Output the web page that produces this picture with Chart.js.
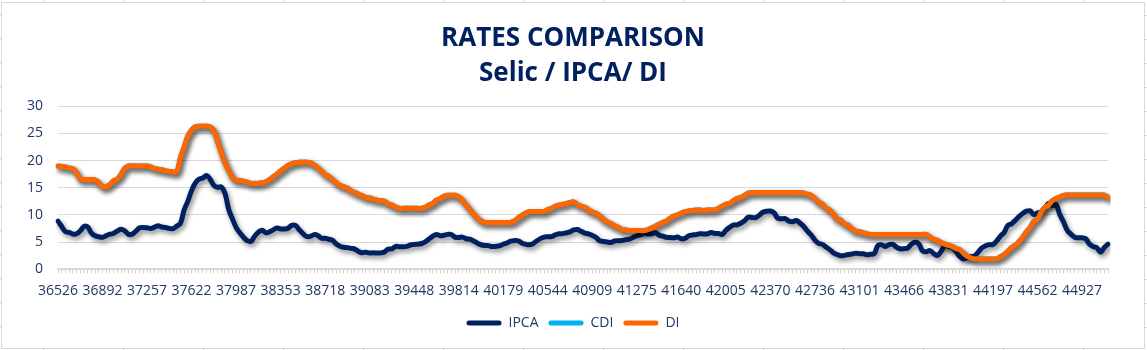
<!DOCTYPE html>
<html><head><meta charset="utf-8">
<script src="https://cdn.jsdelivr.net/npm/chart.js@4/dist/chart.umd.min.js"></script>
<style>
html,body{margin:0;padding:0;}
body{width:1147px;height:350px;overflow:hidden;position:relative;background-color:#fff;
background-image:linear-gradient(to right,#d6d6d6 1px,transparent 1px),linear-gradient(to bottom,#d6d6d6 1px,transparent 1px);
background-size:80px 100%,100% 24px;background-position:43px 0,0 15px;}
#box{position:absolute;left:1px;top:2px;width:1144px;height:347px;box-sizing:border-box;border:1px solid #d9d9d9;background:#fff;}
#box canvas{display:block;}
</style></head><body><div id="box"><canvas id="c" width="1142" height="345"></canvas></div>
<script>
// Monthly categories (Excel date serials, first day of each month, Jan 2000 .. Aug 2023)
const startYear = 2000, monthCount = 284;
const categories = [];
for (let i = 0; i < monthCount; i++) {
  const y = startYear + Math.floor(i / 12), m = i % 12;
  categories.push(String((Date.UTC(y, m, 1) - Date.UTC(1899, 11, 30)) / 86400000));
}
const tickLabels = ['36526','36892','37257','37622','37987','38353','38718','39083','39448','39814','40179','40544','40909','41275','41640','42005','42370','42736','43101','43466','43831','44197','44562','44927'];
const yTicks = [0, 5, 10, 15, 20, 25, 30];

const ipca = [
 8.85,7.86,6.92,6.77,6.47,6.51,7.06,7.86,7.77,6.66,6.16,5.97,
 5.89,6.18,6.44,6.61,7.04,7.35,7.06,6.41,6.46,7.00,7.61,7.67,
 7.62,7.51,7.75,7.98,7.77,7.66,7.51,7.46,7.93,8.45,10.93,12.53,
 14.47,15.85,16.57,16.77,17.24,16.57,15.43,15.07,15.14,13.98,11.02,9.30,
 7.71,6.69,5.89,5.26,5.15,6.06,6.81,7.18,6.71,6.86,7.24,7.60,
 7.41,7.39,7.54,8.07,8.05,7.27,6.57,6.02,6.04,6.36,6.22,5.69,
 5.70,5.51,5.32,4.63,4.23,4.03,3.97,3.84,3.70,3.26,3.02,3.14,
 2.99,3.02,2.96,3.00,3.18,3.69,3.74,4.18,4.15,4.12,4.19,4.46,
 4.56,4.61,4.73,5.04,5.58,6.06,6.37,6.17,6.25,6.41,6.39,5.90,
 5.84,5.90,5.61,5.53,5.20,4.80,4.50,4.36,4.34,4.17,4.22,4.31,
 4.59,4.83,5.17,5.26,5.22,4.84,4.60,4.49,4.70,5.20,5.63,5.91,
 5.99,6.01,6.30,6.51,6.55,6.71,6.87,7.23,7.31,6.97,6.64,6.50,
 6.22,5.85,5.24,5.10,4.99,4.92,5.20,5.24,5.28,5.45,5.53,5.84,
 6.15,6.31,6.59,6.49,6.50,6.70,6.27,6.09,5.86,5.84,5.77,5.91,
 5.59,5.68,6.15,6.28,6.37,6.52,6.50,6.51,6.75,6.59,6.56,6.41,
 7.14,7.70,8.13,8.17,8.47,8.89,9.56,9.53,9.49,9.93,10.48,10.67,
 10.71,10.36,9.39,9.28,9.32,8.84,8.74,8.97,8.48,7.87,6.99,6.29,
 5.35,4.76,4.57,4.08,3.60,3.00,2.71,2.46,2.54,2.70,2.80,2.95,
 2.86,2.84,2.68,2.76,2.86,4.39,4.48,4.19,4.53,4.56,4.05,3.75,
 3.78,3.89,4.58,4.94,4.66,3.37,3.22,3.43,2.89,2.54,3.27,4.31,
 4.19,4.01,3.30,2.40,1.88,2.13,2.31,2.44,3.14,3.92,4.31,4.52,
 4.56,5.20,6.10,6.76,8.06,8.35,8.99,9.68,10.25,10.67,10.74,10.06,
 10.38,10.54,11.30,12.13,11.73,11.89,10.07,8.73,7.17,6.47,5.90,5.79,
 5.77,5.60,4.65,4.18,3.94,3.16,3.99,4.61
];

const di = [
 19.0,18.9,18.8,18.6,18.5,17.8,16.6,16.5,16.5,16.5,16.4,15.9,
 15.2,15.2,15.6,16.3,16.6,17.5,18.6,19.0,19.0,19.0,19.0,19.0,
 19.0,18.8,18.5,18.4,18.3,18.1,18.0,17.9,17.9,20.5,22.5,24.5,
 25.6,26.2,26.3,26.3,26.3,26.2,25.5,23.5,21.5,19.6,18.2,16.9,
 16.4,16.3,16.2,16.0,15.8,15.8,15.8,15.9,16.1,16.5,17.0,17.5,
 18.1,18.6,19.1,19.4,19.6,19.7,19.7,19.7,19.6,19.2,18.7,18.1,
 17.4,17.1,16.5,15.9,15.4,15.2,14.9,14.4,14.1,13.8,13.5,13.2,
 13.1,12.9,12.7,12.6,12.5,12.0,11.8,11.4,11.2,11.2,11.2,11.2,
 11.2,11.2,11.2,11.4,11.8,12.1,12.7,13.0,13.4,13.6,13.6,13.6,
 13.3,12.7,11.8,11.0,10.2,9.4,8.9,8.6,8.6,8.6,8.6,8.6,
 8.6,8.6,8.6,8.9,9.4,9.9,10.3,10.6,10.6,10.6,10.6,10.6,
 11.0,11.2,11.6,11.8,11.9,12.1,12.3,12.4,11.9,11.6,11.4,10.9,
 10.5,10.3,9.8,9.2,8.7,8.4,8.0,7.7,7.3,7.2,7.1,7.1,
 7.1,7.1,7.1,7.3,7.6,7.9,8.3,8.6,8.9,9.4,9.8,10.0,
 10.3,10.6,10.7,10.8,10.9,10.9,10.8,10.9,10.9,10.9,11.2,11.6,
 12.0,12.1,12.6,13.0,13.2,13.6,14.0,14.1,14.1,14.1,14.1,14.1,
 14.1,14.1,14.1,14.1,14.1,14.1,14.1,14.1,14.1,14.0,13.8,13.6,
 13.0,12.3,12.0,11.2,10.9,10.1,9.2,9.0,8.3,8.1,7.4,7.0,
 6.9,6.7,6.5,6.4,6.4,6.4,6.4,6.4,6.4,6.4,6.4,6.4,
 6.4,6.4,6.4,6.4,6.4,6.4,6.4,5.9,5.5,5.3,4.9,4.6,
 4.4,4.2,3.8,3.6,3.0,2.4,2.1,1.9,1.9,1.9,1.9,1.9,
 1.9,1.9,2.3,2.7,3.3,4.0,4.4,5.1,5.9,6.9,7.7,8.8,
 9.2,10.5,11.4,11.8,12.6,13.0,13.3,13.6,13.65,13.65,13.65,13.65,
 13.65,13.65,13.65,13.65,13.65,13.65,13.65,13.2
];

// CDI is drawn underneath DI (same values, hidden in the reference)
const cdi = [
 19.0,18.9,18.8,18.6,18.5,17.8,16.6,16.5,16.5,16.5,16.4,15.9,
 15.2,15.2,15.6,16.3,16.6,17.5,18.6,19.0,19.0,19.0,19.0,19.0,
 19.0,18.8,18.5,18.4,18.3,18.1,18.0,17.9,17.9,20.5,22.5,24.5,
 25.6,26.2,26.3,26.3,26.3,26.2,25.5,23.5,21.5,19.6,18.2,16.9,
 16.4,16.3,16.2,16.0,15.8,15.8,15.8,15.9,16.1,16.5,17.0,17.5,
 18.1,18.6,19.1,19.4,19.6,19.7,19.7,19.7,19.6,19.2,18.7,18.1,
 17.4,17.1,16.5,15.9,15.4,15.2,14.9,14.4,14.1,13.8,13.5,13.2,
 13.1,12.9,12.7,12.6,12.5,12.0,11.8,11.4,11.2,11.2,11.2,11.2,
 11.2,11.2,11.2,11.4,11.8,12.1,12.7,13.0,13.4,13.6,13.6,13.6,
 13.3,12.7,11.8,11.0,10.2,9.4,8.9,8.6,8.6,8.6,8.6,8.6,
 8.6,8.6,8.6,8.9,9.4,9.9,10.3,10.6,10.6,10.6,10.6,10.6,
 11.0,11.2,11.6,11.8,11.9,12.1,12.3,12.4,11.9,11.6,11.4,10.9,
 10.5,10.3,9.8,9.2,8.7,8.4,8.0,7.7,7.3,7.2,7.1,7.1,
 7.1,7.1,7.1,7.3,7.6,7.9,8.3,8.6,8.9,9.4,9.8,10.0,
 10.3,10.6,10.7,10.8,10.9,10.9,10.8,10.9,10.9,10.9,11.2,11.6,
 12.0,12.1,12.6,13.0,13.2,13.6,14.0,14.1,14.1,14.1,14.1,14.1,
 14.1,14.1,14.1,14.1,14.1,14.1,14.1,14.1,14.1,14.0,13.8,13.6,
 13.0,12.3,12.0,11.2,10.9,10.1,9.2,9.0,8.3,8.1,7.4,7.0,
 6.9,6.7,6.5,6.4,6.4,6.4,6.4,6.4,6.4,6.4,6.4,6.4,
 6.4,6.4,6.4,6.4,6.4,6.4,6.4,5.9,5.5,5.3,4.9,4.6,
 4.4,4.2,3.8,3.6,3.0,2.4,2.1,1.9,1.9,1.9,1.9,1.9,
 1.9,1.9,2.3,2.7,3.3,4.0,4.4,5.1,5.9,6.9,7.7,8.8,
 9.2,10.5,11.4,11.8,12.6,13.0,13.3,13.6,13.65,13.65,13.65,13.65,
 13.65,13.65,13.65,13.65,13.65,13.65,13.65,13.2
];

const seriesNames = ['IPCA', 'CDI', 'DI'];
const seriesColors = ['#002060', '#00B0F0', '#FF6600'];
const seriesData = [ipca, cdi, di];

const textColor = '#1F3864';
const fontFamily = "'Open Sans', 'Segoe UI', sans-serif";

const shadowPlugin = {
  id: 'lineShadow',
  beforeDatasetDraw(chart) {
    const ctx = chart.ctx;
    ctx.save();
    ctx.shadowColor = 'rgba(0,0,0,0.45)';
    ctx.shadowBlur = 5;
    ctx.shadowOffsetX = 2;
    ctx.shadowOffsetY = 3;
  },
  afterDatasetDraw(chart) { chart.ctx.restore(); }
};

new Chart(document.getElementById('c'), {
  type: 'line',
  data: {
    labels: categories,
    datasets: seriesNames.map((name, i) => ({
      label: name,
      data: seriesData[i],
      borderColor: seriesColors[i],
      backgroundColor: seriesColors[i],
      borderWidth: 5,
      pointRadius: 0,
      pointHoverRadius: 0,
      tension: 0.4,
      borderJoinStyle: 'round',
      borderCapStyle: 'round',
      fill: false,
      order: 3 - i
    }))
  },
  options: {
    responsive: false,
    animation: false,
    devicePixelRatio: 1,
    layout: { padding: { left: 10, right: 10, top: 0, bottom: 8 } },
    plugins: {
      title: {
        display: true,
        text: ['RATES COMPARISON', 'Selic / IPCA/ DI'],
        color: '#002060',
        font: { family: fontFamily, size: 26, weight: 'bold', lineHeight: 1.35 },
        padding: { top: 18, bottom: 15 }
      },
      legend: {
        position: 'bottom',
        labels: {
          color: textColor,
          font: { family: fontFamily, size: 14 },
          boxWidth: 35,
          boxHeight: 5,
          padding: 10,
          useBorderRadius: true,
          borderRadius: 2.5,
          sort: (a, b) => a.datasetIndex - b.datasetIndex,
          generateLabels(chart) {
            return Chart.defaults.plugins.legend.labels.generateLabels(chart).map(l => Object.assign(l, { lineWidth: 0 }));
          }
        }
      },
      tooltip: { enabled: false }
    },
    scales: {
      x: {
        grid: { drawOnChartArea: false, drawTicks: true, tickLength: 4, color: '#D0D0D0', lineWidth: 1 },
        border: { display: true, color: '#D9D9D9', width: 2 },
        ticks: {
          autoSkip: false, maxRotation: 0, minRotation: 0, padding: 9,
          color: textColor, font: { family: fontFamily, size: 14 },
          callback(v, i) { const c = categories[i]; return tickLabels.includes(c) ? c : ''; }
        },
        afterFit(s) { s.height -= 2; }
      },
      y: {
        min: yTicks[0], max: yTicks[yTicks.length - 1],
        grid: { color: '#D9D9D9', lineWidth: 1, drawTicks: false },
        border: { display: false },
        ticks: { stepSize: 5, padding: 15, color: textColor, font: { family: fontFamily, size: 14 } }
      },
      yRight: {
        position: 'right',
        display: true,
        grid: { display: false, drawTicks: false },
        border: { display: false },
        ticks: { display: false },
        afterFit(s) { s.width = 26; }
      }
    }
  },
  plugins: [shadowPlugin]
});
</script></body></html>
